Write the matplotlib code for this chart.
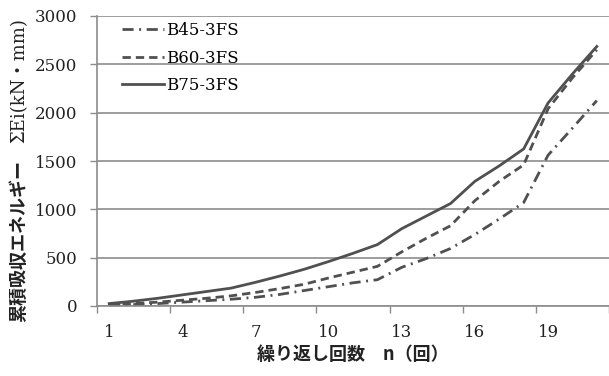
import matplotlib.pyplot as plt
from matplotlib.ticker import FixedLocator

# cumulative absorbed energy per repeat count
cycles = list(range(1, 22))
b45 = [10, 15, 25, 40, 55, 70, 90, 120, 160, 200, 240, 272, 400, 490, 595,
       740, 900, 1070, 1560, 1840, 2125]
b60 = [15, 25, 40, 60, 80, 105, 140, 180, 225, 290, 350, 410, 560, 700, 830,
       1090, 1290, 1460, 2040, 2360, 2650]
b75 = [25, 50, 80, 115, 150, 185, 245, 310, 380, 460, 545, 635, 800, 930, 1060,
       1290, 1450, 1625, 2100, 2400, 2685]
labels = ["B45-3FS", "B60-3FS", "B75-3FS"]
xtick_labels = [1, 4, 7, 10, 13, 16, 19]
yticks = [0, 500, 1000, 1500, 2000, 2500, 3000]

line_color = "#505050"
grid_color = "#8c8c8c"
text_color = "#222222"
serif = ["DejaVu Serif", "Noto Sans CJK JP"]
jp = ["Noto Sans CJK JP", "DejaVu Sans"]

fig = plt.figure(figsize=(6.09, 3.76), dpi=100)
ax = fig.add_axes([97 / 609, 70 / 376, 512 / 609, 290 / 376])

ax.plot(cycles, b45, color=line_color, lw=2, dashes=(4, 2, 0.7, 2),
        label=labels[0], clip_on=False)
ax.plot(cycles, b60, color=line_color, lw=2, dashes=(3, 1.8),
        label=labels[1], clip_on=False)
ax.plot(cycles, b75, color=line_color, lw=2, label=labels[2], clip_on=False)

ax.set_xlim(0.5, 21.5)
ax.set_ylim(0, 3000)

# category boundaries carry the tick marks, labels sit at category centres
ax.xaxis.set_major_locator(FixedLocator([0.5 + 3 * i for i in range(8)]))
ax.xaxis.set_minor_locator(FixedLocator(xtick_labels))
ax.set_xticklabels([])
ax.set_xticklabels([str(v) for v in xtick_labels], minor=True)
ax.tick_params(axis="x", which="major", length=5, width=1, color=grid_color)
ax.tick_params(axis="x", which="minor", length=0, pad=13)

ax.set_yticks(yticks)
ax.tick_params(axis="y", length=5, width=1, color=grid_color, pad=9)
ax.yaxis.grid(True, color=grid_color, lw=1.2)
ax.set_axisbelow(True)

for lab in ax.get_xticklabels(minor=True) + ax.get_yticklabels():
    lab.set_fontfamily(serif)
    lab.set_fontsize(12)
    lab.set_color(text_color)

for side in ["top", "right"]:
    ax.spines[side].set_visible(False)
for side in ["left", "bottom"]:
    ax.spines[side].set_color(grid_color)
    ax.spines[side].set_linewidth(1.2)

ax.legend(loc="upper left", bbox_to_anchor=(0.02, 1.03), frameon=False,
          handlelength=2.5, handletextpad=0.1, labelspacing=0.62,
          prop={"family": serif, "size": 12})

fig.text(353 / 609, 1 - 355 / 376, "繰り返し回数　n（回）", ha="center",
         va="center", family=jp, fontsize=13, weight="bold", color=text_color)
# y label: gothic japanese part plus serif unit part
fig.text(19 / 609, 1 - 241 / 376, "累積吸収エネルギー", rotation=90,
         ha="center", va="center", family=jp, fontsize=13, weight="bold",
         color=text_color)
fig.text(19 / 609, 1 - 81 / 376, "ΣEi(kN・mm)", rotation=90,
         ha="center", va="center", family=serif, fontsize=13,
         color=text_color)

fig.savefig("out.png", dpi=100)
